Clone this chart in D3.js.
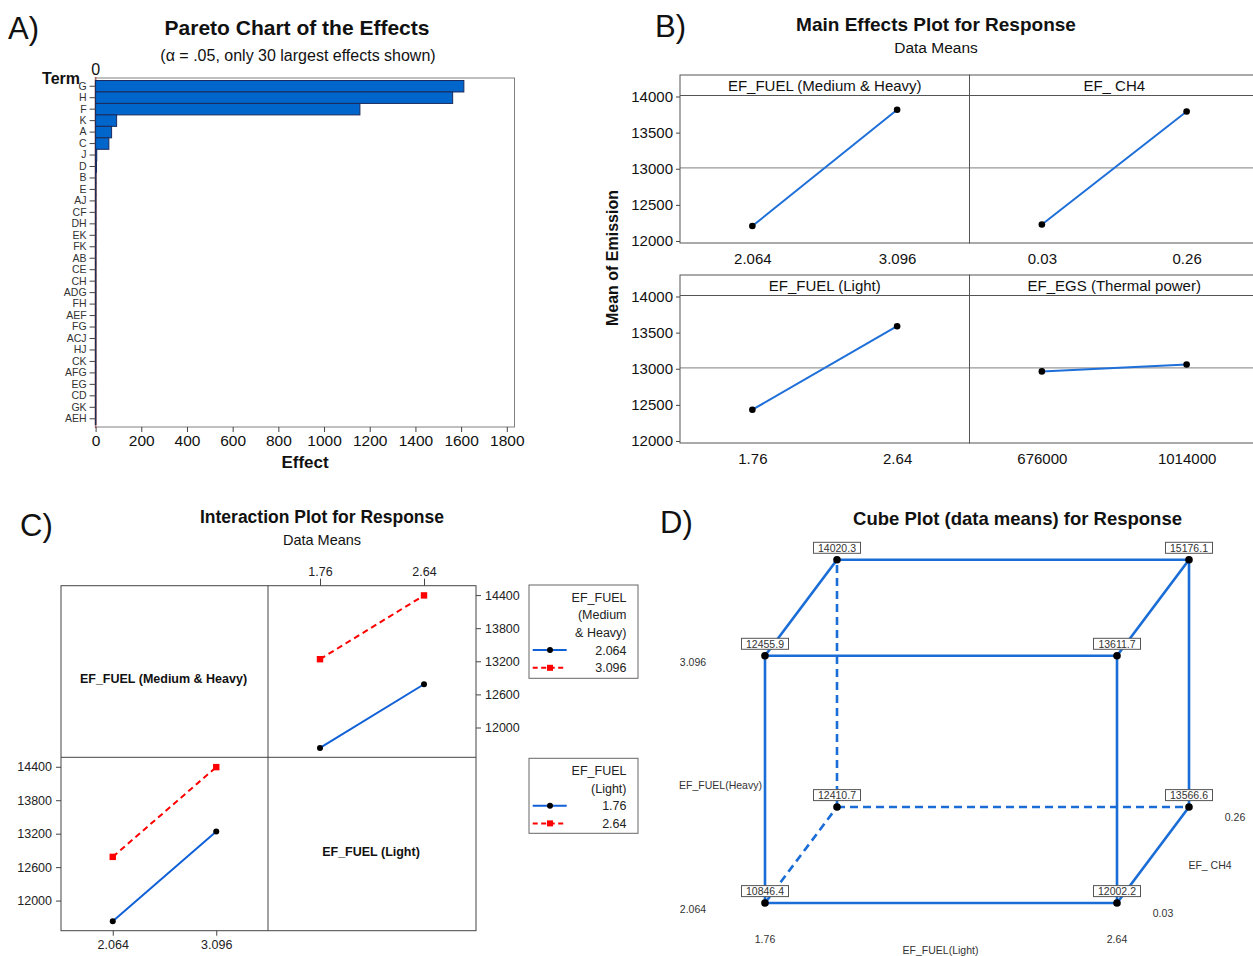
<!DOCTYPE html>
<html><head><meta charset="utf-8">
<script src="https://cdn.jsdelivr.net/npm/d3@7"></script>
<style>body{margin:0;background:#fff}svg{display:block}</style>
</head><body><svg id="c" width="1253" height="956"></svg>
<script>
// ---------- DATA ----------
// A) Pareto
const paretoTerms = ["G","H","F","K","A","C","J","D","B","E","AJ","CF","DH","EK","FK","AB","CE","CH","ADG","FH","AEF","FG","ACJ","HJ","CK","AFG","EG","CD","GK","AEH"];
const paretoEffects = [1612,1563,1157,92,70,58,5,4,1.2,1.0,0.9,0.8,0.7,0.7,0.6,0.6,0.5,0.5,0.5,0.4,0.4,0.4,0.3,0.3,0.3,0.3,0.2,0.2,0.2,0.2];
const paretoTicks = [0,200,400,600,800,1000,1200,1400,1600,1800];
const paretoRef = 0;
// B) Main effects
const mainFactors = ["EF_FUEL (Medium & Heavy)","EF_ CH4","EF_FUEL (Light)","EF_EGS (Thermal power)"];
const mainLevels = [["2.064","3.096"],["0.03","0.26"],["1.76","2.64"],["676000","1014000"]];
const mainMeans = [[12207,13816],[12229,13793],[12433,13589],[12963,13059]];
const mainYTicks = [12000,12500,13000,13500,14000];
const grandMean = 13011;
// C) Interaction
const interMHLevels = ["2.064","3.096"];
const interLightLevels = ["1.76","2.64"];
const interByMH = [[11629,12784],[13238,14394]];     // x = Light, series = M&H
const interByLight = [[11629,13238],[12784,14394]];  // x = M&H, series = Light
const interYTicks = [12000,12600,13200,13800,14400];
// D) Cube
const cubeLight = ["1.76","2.64"];
const cubeHeavy = ["2.064","3.096"];
const cubeCH4 = ["0.03","0.26"];
// order: (Light,CH4) = (1.76,0.03),(2.64,0.03),(1.76,0.26),(2.64,0.26)
const cubeLow  = [10846.4, 12002.2, 12410.7, 13566.6]; // Heavy = 2.064
const cubeHigh = [12455.9, 13611.7, 14020.3, 15176.1]; // Heavy = 3.096

// ---------- HELPERS ----------
const F = "'Liberation Sans', Arial, Helvetica, sans-serif";
const svg = d3.select("#c");
function txt(g, x, y, s, o = {}) {
  return g.append("text").attr("x", x).attr("y", y).text(s)
    .attr("font-family", F).attr("font-size", o.size || 12)
    .attr("font-weight", o.bold ? "bold" : "normal")
    .attr("text-anchor", o.anchor || "middle")
    .attr("fill", o.fill || "#111");
}
function styleAxis(g, size, fill) {
  g.select(".domain").remove();
  g.selectAll("text").attr("font-family", F).attr("font-size", size).attr("fill", fill || "#111");
  g.selectAll("line").attr("stroke", "#444");
}

// ---------- A) PARETO ----------
const gA = svg.append("g");
txt(gA, 8, 39, "A)", {size: 31, anchor: "start", fill: "#111"});
txt(gA, 297, 35, "Pareto Chart of the Effects", {size: 21, bold: true});
txt(gA, 298, 61, "(\u03b1 = .05, only 30 largest effects shown)", {size: 16});
const xA = d3.scaleLinear().domain([0, 1800]).range([95.6, 506.8]);
const yA = d3.scaleBand().domain(paretoTerms).range([80.5, 424.5]).padding(0);
const aTop = 78, aBot = 427, aRight = 514.5;
gA.append("line").attr("x1", xA(paretoRef)).attr("x2", xA(paretoRef)).attr("y1", aTop - 1).attr("y2", aBot + 1)
  .attr("stroke", "#e03030").attr("stroke-width", 1.5);
gA.append("rect").attr("x", xA(0)).attr("y", aTop).attr("width", aRight - xA(0)).attr("height", aBot - aTop)
  .attr("fill", "none").attr("stroke", "#808080").attr("stroke-width", 1);
gA.append("line").attr("x1", xA(0)).attr("x2", xA(0)).attr("y1", aTop + 2).attr("y2", aBot - 2)
  .attr("stroke", "#333").attr("stroke-width", 1.5);
gA.selectAll("rect.bar").data(paretoTerms).join("rect").attr("class", "bar")
  .attr("x", xA(0)).attr("y", d => yA(d))
  .attr("width", (d, i) => xA(paretoEffects[i]) - xA(0))
  .attr("height", yA.bandwidth())
  .attr("fill", "#0066cc").attr("stroke", "#1b2a5c").attr("stroke-width", 1);
const axA = gA.append("g").attr("transform", `translate(${xA(0)},0)`)
  .call(d3.axisLeft(yA).tickSize(6).tickPadding(3).tickSizeOuter(0));
styleAxis(axA, 10.5, "#333");
const axAx = gA.append("g").attr("transform", `translate(0,${aBot})`)
  .call(d3.axisBottom(xA).tickValues(paretoTicks).tickSize(5).tickPadding(3).tickSizeOuter(0).tickFormat(d3.format("d")));
styleAxis(axAx, 15.5, "#111");
txt(gA, xA(paretoRef), 75, "0", {size: 16});
txt(gA, 80, 84, "Term", {size: 16, bold: true, anchor: "end"});
txt(gA, 305, 468, "Effect", {size: 17, bold: true});

// ---------- B) MAIN EFFECTS ----------
const gB = svg.append("g");
txt(gB, 655, 37, "B)", {size: 31, anchor: "start"});
txt(gB, 936, 31, "Main Effects Plot for Response", {size: 19, bold: true});
txt(gB, 936, 53, "Data Means", {size: 15.5});
gB.append("text").attr("transform", "translate(618,258) rotate(-90)")
  .attr("text-anchor", "middle").attr("font-family", F).attr("font-size", 16).attr("font-weight", "bold")
  .attr("fill", "#111").text("Mean of Emission");
const bLeft = 680, bColW = 289.5, bTop0 = 75, bRowH = 200, bStrip = 20.5, bPlotH = 168;
mainFactors.forEach((name, i) => {
  const col = i % 2, row = Math.floor(i / 2);
  const x0 = bLeft + col * bColW, T = bTop0 + row * bRowH;
  const yB = d3.scaleLinear().domain([11972, 14014]).range([T + bPlotH, T + bStrip]);
  const xB = d3.scalePoint().domain(mainLevels[i]).range([x0, x0 + bColW]).padding(0.5);
  const g = gB.append("g");
  g.append("line").attr("x1", x0).attr("x2", x0 + bColW).attr("y1", yB(grandMean)).attr("y2", yB(grandMean))
    .attr("stroke", "#999").attr("stroke-width", 1.2);
  g.append("rect").attr("x", x0).attr("y", T).attr("width", bColW).attr("height", bPlotH)
    .attr("fill", "none").attr("stroke", "#555").attr("stroke-width", 1);
  g.append("line").attr("x1", x0).attr("x2", x0 + bColW).attr("y1", T + bStrip).attr("y2", T + bStrip)
    .attr("stroke", "#555").attr("stroke-width", 1);
  txt(g, x0 + bColW / 2, T + 16, name, {size: 15});
  const pts = mainLevels[i].map((l, j) => [xB(l), yB(mainMeans[i][j])]);
  g.append("path").attr("d", d3.line()(pts)).attr("fill", "none").attr("stroke", "#1e6fd9").attr("stroke-width", 2);
  g.selectAll("circle").data(pts).join("circle").attr("cx", d => d[0]).attr("cy", d => d[1]).attr("r", 3.3).attr("fill", "#000");
  const ax = g.append("g").attr("transform", `translate(0,${T + bPlotH})`)
    .call(d3.axisBottom(xB).tickSize(0).tickPadding(10));
  styleAxis(ax, 15, "#111");
  if (col === 0) {
    const ay = g.append("g").attr("transform", `translate(${x0},0)`)
      .call(d3.axisLeft(yB).tickValues(mainYTicks).tickSize(4).tickPadding(3).tickFormat(d3.format("d")));
    styleAxis(ay, 15, "#111");
  }
});

// ---------- C) INTERACTION ----------
const gC = svg.append("g");
txt(gC, 20, 536, "C)", {size: 31, anchor: "start"});
txt(gC, 322, 523, "Interaction Plot for Response", {size: 17.5, bold: true});
txt(gC, 322, 545, "Data Means", {size: 14.5});
const cx = [61, 268, 476], cy = [585.7, 757.3, 930.7];
const cDom = [11460, 14570];
gC.append("rect").attr("x", cx[0]).attr("y", cy[0]).attr("width", cx[2] - cx[0]).attr("height", cy[2] - cy[0])
  .attr("fill", "none").attr("stroke", "#444");
gC.append("line").attr("x1", cx[1]).attr("x2", cx[1]).attr("y1", cy[0]).attr("y2", cy[2]).attr("stroke", "#444");
gC.append("line").attr("x1", cx[0]).attr("x2", cx[2]).attr("y1", cy[1]).attr("y2", cy[1]).attr("stroke", "#444");
const serStyles = [{c: "#1060d8", dash: null, m: "circle"}, {c: "#ff0000", dash: "6,4", m: "square"}];
function drawSeries(g, xs, ys, levels, series) {
  series.forEach((vals, s) => {
    const st = serStyles[s];
    const pts = levels.map((l, j) => [xs(l), ys(vals[j])]);
    const p = g.append("path").attr("d", d3.line()(pts)).attr("fill", "none").attr("stroke", st.c).attr("stroke-width", 2);
    if (st.dash) p.attr("stroke-dasharray", st.dash);
    pts.forEach(pt => {
      if (st.m === "circle") g.append("circle").attr("cx", pt[0]).attr("cy", pt[1]).attr("r", 3).attr("fill", "#000");
      else g.append("rect").attr("x", pt[0] - 3.2).attr("y", pt[1] - 3.2).attr("width", 6.4).attr("height", 6.4).attr("fill", "#ff0000");
    });
  });
}
// top-right cell
{
  const xs = d3.scalePoint().domain(interLightLevels).range([cx[1], cx[2]]).padding(0.5);
  const ys = d3.scaleLinear().domain(cDom).range([cy[1], cy[0]]);
  drawSeries(gC, xs, ys, interLightLevels, interByMH);
  const at = gC.append("g").attr("transform", `translate(0,${cy[0]})`).call(d3.axisTop(xs).tickSize(7).tickPadding(3));
  styleAxis(at, 12.5, "#222");
  const ar = gC.append("g").attr("transform", `translate(${cx[2]},0)`).call(d3.axisRight(ys).tickValues(interYTicks).tickSize(5).tickPadding(4).tickFormat(d3.format("d")));
  styleAxis(ar, 12.5, "#222");
}
// bottom-left cell
{
  const xs = d3.scalePoint().domain(interMHLevels).range([cx[0], cx[1]]).padding(0.5);
  const ys = d3.scaleLinear().domain(cDom).range([cy[2], cy[1]]);
  drawSeries(gC, xs, ys, interMHLevels, interByLight);
  const ab = gC.append("g").attr("transform", `translate(0,${cy[2]})`).call(d3.axisBottom(xs).tickSize(5).tickPadding(4));
  styleAxis(ab, 12.5, "#222");
  const al = gC.append("g").attr("transform", `translate(${cx[0]},0)`).call(d3.axisLeft(ys).tickValues(interYTicks).tickSize(5).tickPadding(4).tickFormat(d3.format("d")));
  styleAxis(al, 12.5, "#222");
}
txt(gC, (cx[0] + cx[1]) / 2 - 1, (cy[0] + cy[1]) / 2 + 11, "EF_FUEL (Medium & Heavy)", {size: 12.5, bold: true});
txt(gC, (cx[1] + cx[2]) / 2 - 1, (cy[1] + cy[2]) / 2 + 12, "EF_FUEL (Light)", {size: 12.5, bold: true});
function legend(y0, h, titleLines, labels) {
  const g = gC.append("g");
  g.append("rect").attr("x", 529).attr("y", y0).attr("width", 109).attr("height", h).attr("fill", "#fff").attr("stroke", "#666");
  const rowH = 17.7;
  titleLines.forEach((t, i) => txt(g, 626.5, y0 + 16.5 + i * rowH, t, {size: 12.5, anchor: "end", fill: "#222"}));
  labels.forEach((l, i) => {
    const yy = y0 + 12 + (titleLines.length + i) * rowH;
    const st = serStyles[i];
    const ln = g.append("line").attr("x1", 532.7).attr("x2", 566.7).attr("y1", yy).attr("y2", yy).attr("stroke", st.c).attr("stroke-width", 2);
    if (st.dash) ln.attr("stroke-dasharray", "5,3.5");
    if (st.m === "circle") g.append("circle").attr("cx", 550).attr("cy", yy).attr("r", 3).attr("fill", "#000");
    else g.append("rect").attr("x", 547).attr("y", yy - 3).attr("width", 6).attr("height", 6).attr("fill", "#ff0000");
    txt(g, 626.5, yy + 4.5, l, {size: 12.5, anchor: "end", fill: "#222"});
  });
}
legend(585, 93.3, ["EF_FUEL", "(Medium", "& Heavy)"], interMHLevels);
legend(758.3, 75, ["EF_FUEL", "(Light)"], interLightLevels);

// ---------- D) CUBE ----------
const gD = svg.append("g");
txt(gD, 660, 533, "D)", {size: 31, anchor: "start"});
txt(gD, 1017.5, 525, "Cube Plot (data means) for Response", {size: 18.5, bold: true});
const xCube = d3.scalePoint().domain(cubeLight).range([765, 1117]);
const yCube = d3.scalePoint().domain(cubeHeavy).range([903, 655.7]);
const dxCube = d3.scalePoint().domain(cubeCH4).range([0, 72]);
const dyCube = d3.scalePoint().domain(cubeCH4).range([0, -96]);
const verts = [];
[cubeLow, cubeHigh].forEach((vals, h) => {
  vals.forEach((v, k) => {
    const li = k % 2, ci = Math.floor(k / 2);
    verts.push({li, ci, h, v,
      x: xCube(cubeLight[li]) + dxCube(cubeCH4[ci]),
      y: yCube(cubeHeavy[h]) + dyCube(cubeCH4[ci])});
  });
});
const hidden = d => d.li === 0 && d.ci === 1 && d.h === 0;
const edges = [];
for (let a = 0; a < verts.length; a++) for (let b = a + 1; b < verts.length; b++) {
  const A = verts[a], B = verts[b];
  const diff = (A.li !== B.li) + (A.ci !== B.ci) + (A.h !== B.h);
  if (diff === 1) edges.push([A, B, hidden(A) || hidden(B)]);
}
edges.forEach(([A, B, dashed]) => {
  const l = gD.append("line").attr("x1", A.x).attr("y1", A.y).attr("x2", B.x).attr("y2", B.y)
    .attr("stroke", "#1a6dd6").attr("stroke-width", 2.6);
  if (dashed) l.attr("stroke-dasharray", "8,5");
});
verts.forEach(d => {
  gD.append("circle").attr("cx", d.x).attr("cy", d.y).attr("r", 3.8).attr("fill", "#000");
  gD.append("rect").attr("x", d.x - 23.5).attr("y", d.y - 17.4).attr("width", 47).attr("height", 11)
    .attr("fill", "#fff").attr("stroke", "#555").attr("stroke-width", 1);
  txt(gD, d.x, d.y - 8.2, d3.format(".1f")(d.v), {size: 10.5, fill: "#333"});
});
const lab = {size: 10.5, fill: "#333"};
txt(gD, xCube(cubeLight[0]) - 72, yCube(cubeHeavy[1]) + 9.8, cubeHeavy[1], lab);
txt(gD, xCube(cubeLight[0]) - 72, yCube(cubeHeavy[0]) + 9.8, cubeHeavy[0], lab);
txt(gD, 720.5, 788.7, "EF_FUEL(Heavy)", lab);
txt(gD, xCube(cubeLight[0]), yCube(cubeHeavy[0]) + 39.7, cubeLight[0], lab);
txt(gD, xCube(cubeLight[1]), yCube(cubeHeavy[0]) + 39.7, cubeLight[1], lab);
txt(gD, 940.5, 953.7, "EF_FUEL(Light)", lab);
txt(gD, xCube(cubeLight[1]) + 46, yCube(cubeHeavy[0]) + dyCube(cubeCH4[0]) + 13.5, cubeCH4[0], lab);
txt(gD, xCube(cubeLight[1]) + dxCube(cubeCH4[1]) + 46, yCube(cubeHeavy[0]) + dyCube(cubeCH4[1]) + 14, cubeCH4[1], lab);
txt(gD, 1210, 868.7, "EF_ CH4", lab);
</script></body></html>
